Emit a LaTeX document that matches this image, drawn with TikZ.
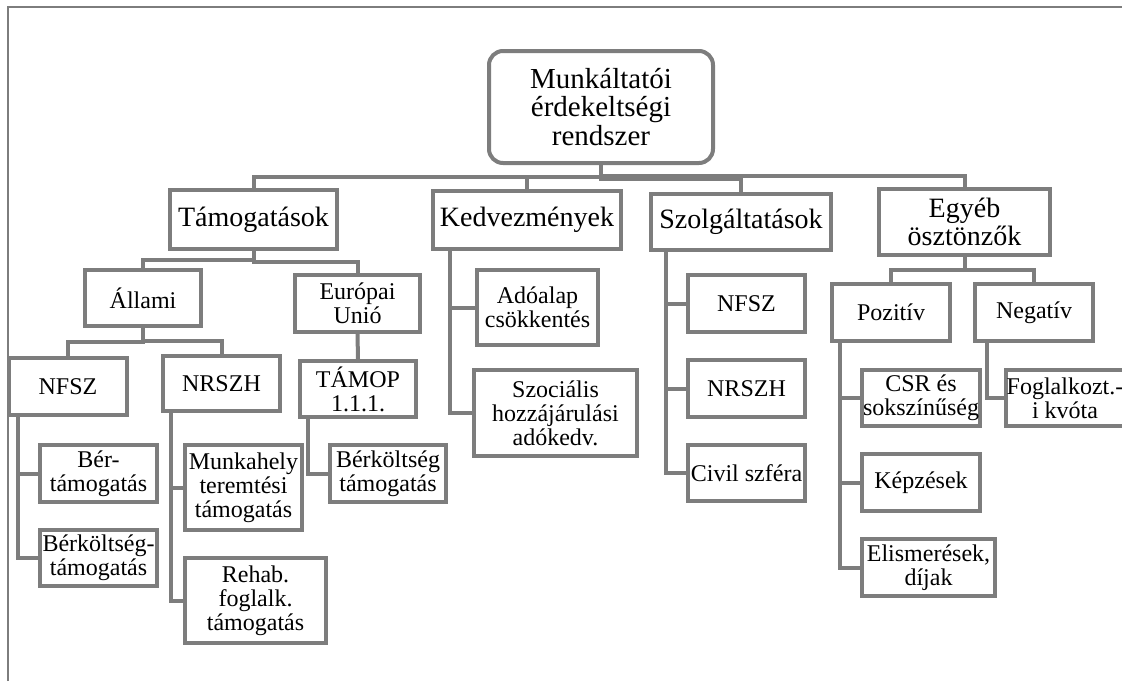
\documentclass[tikz,border=0pt]{standalone}
\usepackage{fontspec}
\setmainfont{Liberation Serif}
\usetikzlibrary{calc}
\definecolor{linegray}{RGB}{125,125,125}
\tikzset{
  box/.style={draw=linegray, line width=4pt, fill=white, align=center,
    inner sep=0pt, font=\fontsize{24}{24}\selectfont},
  bigbox/.style={box, font=\fontsize{28}{28}\selectfont},
  rootbox/.style={box, rounded corners=14pt, font=\fontsize{29}{28.5}\selectfont},
  link/.style={draw=linegray, line width=4pt},
  frameline/.style={draw=linegray, line width=2pt},
}
\begin{document}
\begin{tikzpicture}[x=1pt,y=-1pt]
\useasboundingbox (0,0) rectangle (1122,681);
% outer frame (top and left edges)
\draw[frameline] (8,681) -- (8,7) -- (1122,7);

% root
\node[rootbox, minimum width=224pt, minimum height=112pt] (root) at (601,107)
  {Munkáltatói\\érdekeltségi\\rendszer};

% first level
\node[bigbox, minimum width=167pt, minimum height=59pt] (tam) at (253.5,219.5) {Támogatások};
\node[bigbox, minimum width=188pt, minimum height=58pt] (kedv) at (527,220) {Kedvezmények};
\node[bigbox, minimum width=180pt, minimum height=56pt] (szolg) at (741,222) {Szolgáltatások};
\node[bigbox, minimum width=171pt, minimum height=66pt] (egyeb) at (964.5,222) {Egyéb\\ösztönzők};

% Támogatások branch
\node[box, minimum width=116pt, minimum height=56pt] (allami) at (143,298) {Állami};
\node[box, minimum width=125pt, minimum height=57pt] (eu) at (357.5,303.5) {Európai\\Unió};
\node[box, minimum width=118pt, minimum height=57pt] (nfsz1) at (68,386.5) {NFSZ};
\node[box, minimum width=117pt, minimum height=55pt] (nrszh1) at (221.5,383.5) {NRSZH};
\node[box, minimum width=116pt, minimum height=56pt] (tamop) at (358,389) {TÁMOP\\1.1.1.};
\node[box, minimum width=117pt, minimum height=57pt] (ber1) at (98.5,473.5) {Bér-\\támogatás};
\node[box, minimum width=117pt, minimum height=56pt] (berk1) at (98.5,558) {Bérköltség-\\támogatás};
\node[box, minimum width=117pt, minimum height=85pt] (munk) at (243.5,487.5) {Munkahely\\teremtési\\támogatás};
\node[box, minimum width=141pt, minimum height=85pt] (rehab) at (255.5,600.5) {Rehab.\\foglalk.\\támogatás};
\node[box, minimum width=116pt, minimum height=57pt] (berk2) at (388,473.5) {Bérköltség\\támogatás};

% Kedvezmények branch
\node[box, minimum width=121pt, minimum height=75pt] (ado) at (537.5,307.5) {Adóalap\\csökkentés};
\node[box, minimum width=163pt, minimum height=86pt] (szoc) at (555.5,413) {Szociális\\hozzájárulási\\adókedv.};

% Szolgáltatások branch
\node[box, minimum width=117pt, minimum height=57pt] (nfsz2) at (746.5,303.5) {NFSZ};
\node[box, minimum width=117pt, minimum height=57pt] (nrszh2) at (746.5,388.5) {NRSZH};
\node[box, minimum width=117pt, minimum height=56pt] (civil) at (746.5,473) {Civil szféra};

% Egyéb ösztönzők branch
\node[box, minimum width=118pt, minimum height=57pt] (poz) at (891,312.5) {Pozitív};
\node[box, minimum width=118pt, minimum height=57pt] (neg) at (1034,312.5) {Negatív};
\node[box, minimum width=118pt, minimum height=56pt] (csr) at (921,398) {CSR és\\sokszínűség};
\node[box, minimum width=118pt, minimum height=56pt] (fogl) at (1065,398) {Foglalkozt.-\\i kvóta};
\node[box, minimum width=118pt, minimum height=57pt] (kepz) at (921,482.5) {Képzések};
\node[box, minimum width=133pt, minimum height=57pt] (elism) at (928.5,567.5) {Elismerések,\\díjak};

% elbow connectors (parent bottom -> child top)
\foreach \p/\c in {root/tam, root/kedv, root/szolg, root/egyeb,
                   tam/allami, tam/eu, allami/nfsz1, allami/nrszh1,
                   egyeb/poz, egyeb/neg}
  \draw[link] (\p.south) |- ($(\p.south)!.5!(\c.north)$) -| (\c.north);
\draw[link] (eu.south) -- (tamop.north);

% list connectors (parent left side -> child west)
\foreach \p/\d/\c in {nfsz1/11/ber1, nfsz1/11/berk1,
                      nrszh1/10/munk, nrszh1/10/rehab,
                      tamop/10/berk2,
                      kedv/19/ado, kedv/19/szoc,
                      szolg/17/nfsz2, szolg/17/nrszh2, szolg/17/civil,
                      poz/10/csr, poz/10/kepz, poz/10/elism,
                      neg/14/fogl}
  \draw[link] ($(\p.south west)+(\d,0)$) |- (\c.west);
\end{tikzpicture}
\end{document}
